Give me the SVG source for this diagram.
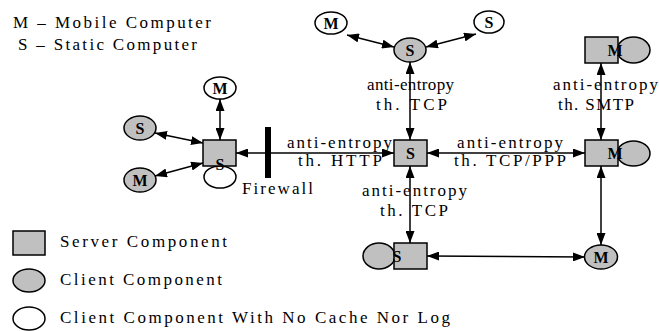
<svg xmlns="http://www.w3.org/2000/svg" width="659" height="331" viewBox="0 0 659 331">
<style>
.srv{fill:#c0c0c0;stroke:#000;stroke-width:1.5}
.cli{fill:#c0c0c0;stroke:#000;stroke-width:1.5}
.nc{fill:#fff;stroke:#000;stroke-width:1.5}
.lbl{font-family:"Liberation Serif",serif;font-weight:bold;font-size:16px;text-anchor:middle}
.txt{font-family:"Liberation Serif",serif;font-size:17px;fill:#000}
.edge{stroke:#000;stroke-width:1.5;fill:none;marker-start:url(#ah);marker-end:url(#ah)}
</style>
<defs>
<marker id="ah" viewBox="0 0 12 9" refX="12" refY="4.5" markerWidth="12" markerHeight="9" markerUnits="userSpaceOnUse" orient="auto-start-reverse">
<path d="M0,0 L12,4.5 L0,9 z" fill="#000"/>
</marker>
</defs>
<rect width="659" height="331" fill="#fff"/>
<g id="legend-text">
<text class="txt" x="13" y="28" textLength="198" lengthAdjust="spacing">M – Mobile Computer</text>
<text class="txt" x="18" y="50" textLength="179" lengthAdjust="spacing">S – Static Computer</text>
</g>
<g id="legend">
<rect class="srv" x="13" y="231" width="32" height="24"/>
<text class="txt" x="60" y="247" textLength="167" lengthAdjust="spacing">Server Component</text>
<ellipse class="cli" cx="29" cy="280.5" rx="16" ry="11.5"/>
<text class="txt" x="60" y="285" textLength="162" lengthAdjust="spacing">Client Component</text>
<ellipse class="nc" cx="29" cy="318.5" rx="16" ry="11.5"/>
<text class="txt" x="60" y="323" textLength="390" lengthAdjust="spacing">Client Component With No Cache Nor Log</text>
</g>
<g id="connectors">
<line class="edge" x1="347" y1="35" x2="394" y2="47"/>
<line class="edge" x1="476" y1="34" x2="426" y2="47"/>
<line class="edge" x1="410" y1="62" x2="410" y2="140"/>
<line class="edge" x1="394" y1="153" x2="236" y2="153"/>
<line class="edge" x1="427" y1="153" x2="585" y2="153"/>
<line class="edge" x1="601" y1="63" x2="601" y2="140"/>
<line class="edge" x1="410" y1="166" x2="410" y2="243"/>
<line class="edge" x1="601" y1="166" x2="601" y2="245"/>
<line class="edge" x1="427" y1="256" x2="585" y2="257"/>
<line class="edge" x1="220" y1="99" x2="220" y2="140"/>
<line class="edge" x1="155" y1="133" x2="203" y2="143"/>
<line class="edge" x1="155" y1="176" x2="203" y2="163"/>
</g>
<g id="edge-labels">
<text class="txt" x="367" y="90" textLength="87" lengthAdjust="spacing">anti-entropy</text>
<text class="txt" x="376" y="110" textLength="71" lengthAdjust="spacing">th. TCP</text>
<text class="txt" x="553" y="90" textLength="105" lengthAdjust="spacing">anti-entropy</text>
<text class="txt" x="558" y="110" textLength="76" lengthAdjust="spacing">th. SMTP</text>
<text class="txt" x="287" y="148" textLength="105" lengthAdjust="spacing">anti-entropy</text>
<text class="txt" x="298" y="166" textLength="84" lengthAdjust="spacing">th. HTTP</text>
<text class="txt" x="457" y="148" textLength="106" lengthAdjust="spacing">anti-entropy</text>
<text class="txt" x="454" y="166" textLength="112" lengthAdjust="spacing">th. TCP/PPP</text>
<text class="txt" x="362" y="196" textLength="105" lengthAdjust="spacing">anti-entropy</text>
<text class="txt" x="380" y="216" textLength="68" lengthAdjust="spacing">th. TCP</text>
<text class="txt" x="242" y="194" textLength="71" lengthAdjust="spacing">Firewall</text>
</g>
<g id="firewall"><rect x="265" y="127" width="6" height="51" fill="#000"/></g>
<g id="node-top-m"><ellipse class="nc" cx="331" cy="23" rx="16" ry="11"/><text class="lbl" x="331" y="29">M</text></g>
<g id="node-top-s2"><ellipse class="nc" cx="489" cy="22" rx="15" ry="11"/><text class="lbl" x="489" y="28">S</text></g>
<g id="node-top-s"><ellipse class="cli" cx="410" cy="50" rx="16" ry="12"/><text class="lbl" x="410" y="56">S</text></g>
<g id="node-tr"><ellipse class="cli" cx="633.5" cy="50" rx="16.5" ry="13"/><rect class="srv" x="585" y="37" width="33" height="26"/><text class="lbl" x="615" y="56">M</text></g>
<g id="node-mid-s"><rect class="srv" x="394" y="140" width="33" height="26"/><text class="lbl" x="410.5" y="159">S</text></g>
<g id="node-mr"><ellipse class="cli" cx="633.5" cy="153.5" rx="16.5" ry="12.5"/><rect class="srv" x="585" y="140" width="33" height="26"/><text class="lbl" x="615" y="159">M</text></g>
<g id="node-bot-s"><ellipse class="cli" cx="379" cy="256" rx="16" ry="13"/><rect class="srv" x="394" y="243" width="33" height="26"/><text class="lbl" x="397" y="262">S</text></g>
<g id="node-bot-m"><ellipse class="cli" cx="601" cy="257" rx="16.5" ry="12"/><text class="lbl" x="601" y="263">M</text></g>
<g id="node-left-s"><ellipse class="nc" cx="220" cy="177" rx="16" ry="11"/><rect class="srv" x="203" y="140" width="33" height="26"/><text class="lbl" x="220" y="170">S</text></g>
<g id="node-left-top-m"><ellipse class="nc" cx="220" cy="88" rx="16" ry="11"/><text class="lbl" x="220" y="94">M</text></g>
<g id="node-left-ls"><ellipse class="cli" cx="140" cy="128" rx="16" ry="12"/><text class="lbl" x="140" y="134">S</text></g>
<g id="node-left-lm"><ellipse class="cli" cx="140" cy="180" rx="16" ry="12"/><text class="lbl" x="140" y="186">M</text></g>
</svg>
